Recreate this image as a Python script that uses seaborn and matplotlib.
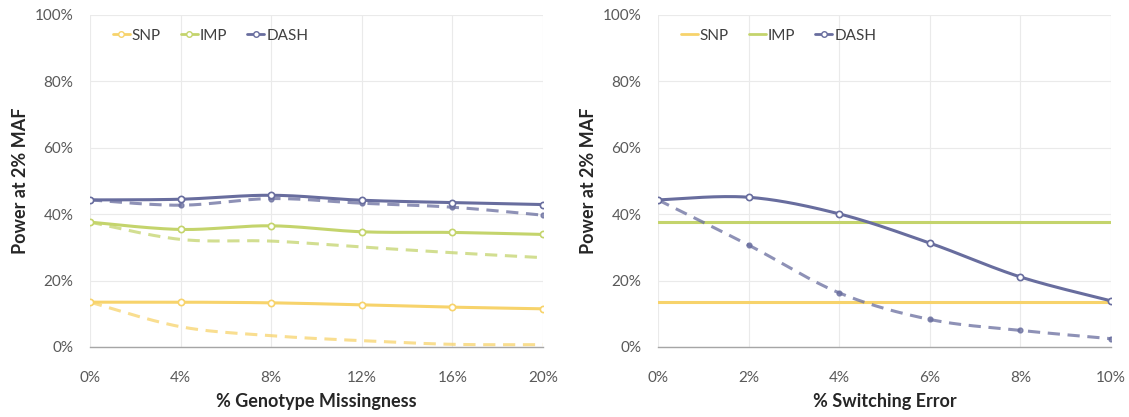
# encoding:utf-8
# 两个场景下 SNP / IMP / DASH 的检验功效对比
import numpy as np
import pandas as pd
import matplotlib
matplotlib.use('Agg')
import matplotlib.pyplot as plt
from matplotlib.lines import Line2D
from matplotlib.ticker import PercentFormatter
import seaborn as sns

# 左图：基因型缺失率
miss_pct = [0, 4, 8, 12, 16, 20]
snp_miss = [13.5, 13.5, 13.3, 12.7, 12.0, 11.5]
snp_miss_dash = [13.5, 6.1, 3.4, 1.9, 0.8, 0.7]
imp_miss = [37.6, 35.4, 36.5, 34.7, 34.5, 33.9]
imp_miss_dash = [37.6, 32.4, 31.9, 30.1, 28.4, 26.9]
dash_miss = [44.3, 44.5, 45.7, 44.2, 43.5, 42.9]
dash_miss_dash = [44.3, 42.7, 44.7, 43.3, 42.1, 39.7]

# 右图：switching error
switch_pct = [0, 2, 4, 6, 8, 10]
snp_switch = [13.5, 13.5]
imp_switch = [37.6, 37.6]
dash_switch = [44.3, 45.1, 40.1, 31.3, 21.1, 13.9]
dash_switch_dash = [44.3, 30.7, 16.3, 8.3, 5.0, 2.5]

C_SNP = '#F7D36B'
C_IMP = '#C4D46C'
C_DASH = '#686D9E'


def smooth(x, y, n=30):
    """类似 Excel 平滑线的 Catmull-Rom 曲线"""
    x = np.asarray(x, float)
    y = np.asarray(y, float)
    if len(x) < 3:
        return x, y
    px = np.r_[x[0], x, x[-1]]
    py = np.r_[y[0], y, y[-1]]
    xs, ys = [], []
    t = np.linspace(0, 1, n)
    for i in range(1, len(px) - 2):
        p0, p1, p2, p3 = [np.array([px[j], py[j]]) for j in range(i - 1, i + 3)]
        c1 = p1 + (p2 - p0) / 6
        c2 = p2 - (p3 - p1) / 6
        b = ((1 - t) ** 3)[:, None] * p1 + (3 * (1 - t) ** 2 * t)[:, None] * c1 \
            + (3 * (1 - t) * t ** 2)[:, None] * c2 + (t ** 3)[:, None] * p2
        xs.extend(b[:, 0])
        ys.extend(b[:, 1])
    return np.array(xs), np.array(ys)


def draw(ax, x, y, color, dashed=False, marker=None, alpha=1.0):
    sx, sy = smooth(x, y)
    sns.lineplot(x=sx, y=sy, ax=ax, color=color, lw=2.2, alpha=alpha, sort=False,
                 linestyle=(0, (4, 2.5)) if dashed else '-')
    if marker == 'open':
        ax.plot(x, y, ls='none', marker='o', ms=4.5, mfc='white', mec=color, mew=1.2, zorder=5)
    elif marker == 'dot':
        ax.plot(x, y, ls='none', marker='o', ms=3.5, mfc=color, mec=color, alpha=alpha, zorder=5)


sns.set_style('white')
plt.rcParams['font.family'] = ['Lato', 'DejaVu Sans']

fig = plt.figure(figsize=(11.29, 4.17), dpi=100)
ax1 = fig.add_axes([0.0797, 0.1679, 0.4012, 0.7962])
ax2 = fig.add_axes([0.5828, 0.1679, 0.4012, 0.7962])

# 左图
draw(ax1, miss_pct, snp_miss_dash, C_SNP, dashed=True, alpha=0.75)
draw(ax1, miss_pct, imp_miss_dash, C_IMP, dashed=True, alpha=0.75)
draw(ax1, miss_pct, dash_miss_dash, C_DASH, dashed=True, marker='dot', alpha=0.75)
draw(ax1, miss_pct, snp_miss, C_SNP, marker='open')
draw(ax1, miss_pct, imp_miss, C_IMP, marker='open')
draw(ax1, miss_pct, dash_miss, C_DASH, marker='open')

# 右图
draw(ax2, [switch_pct[0], switch_pct[-1]], snp_switch, C_SNP)
draw(ax2, [switch_pct[0], switch_pct[-1]], imp_switch, C_IMP)
draw(ax2, switch_pct, dash_switch_dash, C_DASH, dashed=True, marker='dot', alpha=0.75)
draw(ax2, switch_pct, dash_switch, C_DASH, marker='open')

for ax, xt, xl in [(ax1, miss_pct, '% Genotype Missingness'), (ax2, switch_pct, '% Switching Error')]:
    ax.set_xlim(xt[0], xt[-1])
    ax.set_ylim(0, 100)
    ax.set_xticks(xt)
    ax.set_yticks(range(0, 101, 20))
    ax.xaxis.set_major_formatter(PercentFormatter(decimals=0))
    ax.yaxis.set_major_formatter(PercentFormatter(decimals=0))
    ax.grid(True, color='#EAEAEA', lw=0.8)
    ax.set_axisbelow(True)
    for s in ['top', 'right', 'left']:
        ax.spines[s].set_visible(False)
    ax.spines['bottom'].set_color('#A6A6A6')
    ax.spines['bottom'].set_linewidth(1.0)
    ax.tick_params(axis='x', direction='out', length=5, color='#A6A6A6', width=1,
                   labelsize=11, labelcolor='#595959', pad=12)
    ax.tick_params(axis='y', length=0, labelsize=11, labelcolor='#595959', pad=12)
    ax.set_xlabel(xl, fontsize=13, fontweight='bold', color='#262626', labelpad=6)
    ax.set_ylabel('Power at 2% MAF', fontsize=13, fontweight='bold', color='#262626', labelpad=4)

# 图例
def handle(color, marker=True):
    if marker:
        return Line2D([], [], color=color, lw=2, marker='o', ms=4, mfc='white', mec=color)
    return Line2D([], [], color=color, lw=2)


legend_kw = dict(loc='upper left', bbox_to_anchor=(0.02, 1.0), ncol=3, frameon=False,
                 fontsize=11, handlelength=1.1, handletextpad=0.15, columnspacing=1.3,
                 labelcolor='#404040')
ax1.legend([handle(C_SNP), handle(C_IMP), handle(C_DASH)], ['SNP', 'IMP', 'DASH'], **legend_kw)
ax2.legend([handle(C_SNP, False), handle(C_IMP, False), handle(C_DASH)], ['SNP', 'IMP', 'DASH'],
           **legend_kw)

fig.savefig('out.png', dpi=100)
